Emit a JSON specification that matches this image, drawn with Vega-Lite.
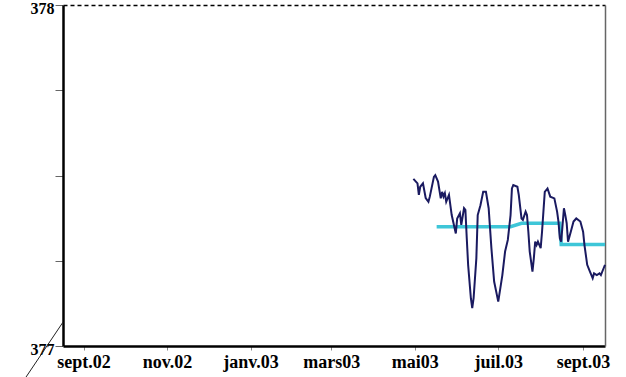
{
  "$schema": "https://vega.github.io/schema/vega-lite/v6.json",
  "width": 542,
  "height": 341,
  "autosize": {"type": "none"},
  "padding": {"left": 63, "top": 5, "right": 21, "bottom": 31},
  "background": "white",
  "view": {"stroke": null},
  "config": {"axis": {"grid": false, "title": null}},
  "datasets": {
    "niveau": [
      {"date": "2003-04-30", "v": 377.490},
      {"date": "2003-05-03", "v": 377.477},
      {"date": "2003-05-04", "v": 377.443},
      {"date": "2003-05-05", "v": 377.467},
      {"date": "2003-05-07", "v": 377.477},
      {"date": "2003-05-09", "v": 377.434},
      {"date": "2003-05-11", "v": 377.423},
      {"date": "2003-05-12", "v": 377.438},
      {"date": "2003-05-15", "v": 377.496},
      {"date": "2003-05-16", "v": 377.501},
      {"date": "2003-05-18", "v": 377.482},
      {"date": "2003-05-20", "v": 377.433},
      {"date": "2003-05-21", "v": 377.452},
      {"date": "2003-05-22", "v": 377.438},
      {"date": "2003-05-23", "v": 377.448},
      {"date": "2003-05-24", "v": 377.423},
      {"date": "2003-05-26", "v": 377.443},
      {"date": "2003-05-28", "v": 377.384},
      {"date": "2003-05-31", "v": 377.330},
      {"date": "2003-06-01", "v": 377.374},
      {"date": "2003-06-03", "v": 377.389},
      {"date": "2003-06-04", "v": 377.355},
      {"date": "2003-06-06", "v": 377.404},
      {"date": "2003-06-07", "v": 377.399},
      {"date": "2003-06-08", "v": 377.316},
      {"date": "2003-06-09", "v": 377.238},
      {"date": "2003-06-11", "v": 377.140},
      {"date": "2003-06-12", "v": 377.111},
      {"date": "2003-06-13", "v": 377.140},
      {"date": "2003-06-15", "v": 377.257},
      {"date": "2003-06-16", "v": 377.384},
      {"date": "2003-06-18", "v": 377.413},
      {"date": "2003-06-20", "v": 377.452},
      {"date": "2003-06-22", "v": 377.452},
      {"date": "2003-06-24", "v": 377.404},
      {"date": "2003-06-26", "v": 377.287},
      {"date": "2003-06-28", "v": 377.189},
      {"date": "2003-06-30", "v": 377.150},
      {"date": "2003-07-01", "v": 377.130},
      {"date": "2003-07-04", "v": 377.208},
      {"date": "2003-07-06", "v": 377.277},
      {"date": "2003-07-08", "v": 377.311},
      {"date": "2003-07-10", "v": 377.384},
      {"date": "2003-07-11", "v": 377.462},
      {"date": "2003-07-12", "v": 377.472},
      {"date": "2003-07-15", "v": 377.467},
      {"date": "2003-07-16", "v": 377.443},
      {"date": "2003-07-18", "v": 377.374},
      {"date": "2003-07-19", "v": 377.370},
      {"date": "2003-07-21", "v": 377.394},
      {"date": "2003-07-22", "v": 377.384},
      {"date": "2003-07-23", "v": 377.335},
      {"date": "2003-07-24", "v": 377.277},
      {"date": "2003-07-26", "v": 377.218},
      {"date": "2003-07-27", "v": 377.257},
      {"date": "2003-07-28", "v": 377.306},
      {"date": "2003-07-29", "v": 377.296},
      {"date": "2003-07-30", "v": 377.306},
      {"date": "2003-08-01", "v": 377.287},
      {"date": "2003-08-02", "v": 377.335},
      {"date": "2003-08-03", "v": 377.394},
      {"date": "2003-08-04", "v": 377.452},
      {"date": "2003-08-06", "v": 377.462},
      {"date": "2003-08-08", "v": 377.438},
      {"date": "2003-08-11", "v": 377.433},
      {"date": "2003-08-13", "v": 377.394},
      {"date": "2003-08-14", "v": 377.365},
      {"date": "2003-08-15", "v": 377.316},
      {"date": "2003-08-16", "v": 377.306},
      {"date": "2003-08-18", "v": 377.404},
      {"date": "2003-08-19", "v": 377.384},
      {"date": "2003-08-20", "v": 377.360},
      {"date": "2003-08-21", "v": 377.306},
      {"date": "2003-08-23", "v": 377.335},
      {"date": "2003-08-25", "v": 377.365},
      {"date": "2003-08-27", "v": 377.374},
      {"date": "2003-08-30", "v": 377.365},
      {"date": "2003-09-01", "v": 377.335},
      {"date": "2003-09-02", "v": 377.296},
      {"date": "2003-09-04", "v": 377.238},
      {"date": "2003-09-06", "v": 377.218},
      {"date": "2003-09-08", "v": 377.199},
      {"date": "2003-09-09", "v": 377.213},
      {"date": "2003-09-11", "v": 377.208},
      {"date": "2003-09-13", "v": 377.213},
      {"date": "2003-09-14", "v": 377.208},
      {"date": "2003-09-16", "v": 377.228},
      {"date": "2003-09-17", "v": 377.238}
    ],
    "moyenne": [
      {"date": "2003-05-17", "v": 377.350},
      {"date": "2003-07-10", "v": 377.350},
      {"date": "2003-07-18", "v": 377.360},
      {"date": "2003-08-15", "v": 377.360},
      {"date": "2003-08-16", "v": 377.298},
      {"date": "2003-09-17", "v": 377.298}
    ],
    "coupure": [
      {"d1": "2002-07-21", "d2": "2002-08-17", "v1": 376.909, "v2": 377.070}
    ]
  },
  "layer": [
    {
      "data": {"name": "coupure"},
      "mark": {"type": "rule", "color": "#222222", "strokeWidth": 1, "clip": false},
      "encoding": {
        "x": {"field": "d1", "type": "temporal", "axis": null,
              "scale": {"type": "utc", "domain": [{"year": 2002, "month": 8, "date": 17, "utc": true}, {"year": 2003, "month": 9, "date": 17, "utc": true}]}},
        "x2": {"field": "d2"},
        "y": {"field": "v1", "type": "quantitative", "axis": null,
              "scale": {"domain": [377, 378], "zero": false}},
        "y2": {"field": "v2"}
      }
    },
    {
      "data": {"name": "moyenne"},
      "mark": {"type": "line", "color": "#3ec6d8", "strokeWidth": 3.5},
      "encoding": {
        "x": {"field": "date", "type": "temporal",
              "scale": {"type": "utc", "domain": [{"year": 2002, "month": 8, "date": 17, "utc": true}, {"year": 2003, "month": 9, "date": 17, "utc": true}]},
              "axis": {"orient": "top", "labels": false, "ticks": false, "domainColor": "#000000", "domainWidth": 1.5, "domainDash": [4, 3]}},
        "y": {"field": "v", "type": "quantitative",
              "scale": {"domain": [377, 378], "zero": false},
              "axis": {"orient": "right", "labels": false, "ticks": false, "domainColor": "#666666", "domainWidth": 1.5}}
      }
    },
    {
      "data": {"name": "niveau"},
      "mark": {"type": "line", "color": "#1a1a60", "strokeWidth": 2},
      "encoding": {
        "x": {"field": "date", "type": "temporal",
              "scale": {"type": "utc", "domain": [{"year": 2002, "month": 8, "date": 17, "utc": true}, {"year": 2003, "month": 9, "date": 17, "utc": true}]},
              "axis": {
                "orient": "bottom",
                "values": [
                  {"year": 2002, "month": 9, "date": 1, "utc": true},
                  {"year": 2002, "month": 11, "date": 1, "utc": true},
                  {"year": 2003, "month": 1, "date": 1, "utc": true},
                  {"year": 2003, "month": 3, "date": 1, "utc": true},
                  {"year": 2003, "month": 5, "date": 1, "utc": true},
                  {"year": 2003, "month": 7, "date": 1, "utc": true},
                  {"year": 2003, "month": 9, "date": 1, "utc": true}
                ],
                "labelExpr": "['janv.','févr.','mars','avr.','mai','juin','juil.','août','sept.','oct.','nov.','déc.'][utcmonth(datum.value)] + utcFormat(datum.value, '%y')",
                "labelFont": "Liberation Serif",
                "labelFontWeight": "bold",
                "labelFontSize": 18,
                "labelColor": "#000000",
                "labelPadding": 3,
                "labelOverlap": false,
                "labelFlush": false,
                "tickColor": "#888888",
                "tickSize": 4,
                "domainColor": "#000000",
                "domainWidth": 2.5
              }},
        "y": {"field": "v", "type": "quantitative",
              "scale": {"domain": [377, 378], "zero": false},
              "axis": {
                "orient": "left",
                "values": [377, 377.25, 377.5, 377.75, 378],
                "labelExpr": "datum.value % 1 == 0 ? format(datum.value, 'd') : ''",
                "labelFont": "Liberation Serif",
                "labelFontWeight": "bold",
                "labelFontSize": 16,
                "labelColor": "#000000",
                "labelPadding": 1,
                "labelOffset": 3,
                "labelFlush": false,
                "labelOverlap": false,
                "tickColor": "#666666",
                "tickSize": 8,
                "domainColor": "#000000",
                "domainWidth": 2.5
              }}
      }
    }
  ],
  "resolve": {"axis": {"x": "independent", "y": "independent"}}
}
